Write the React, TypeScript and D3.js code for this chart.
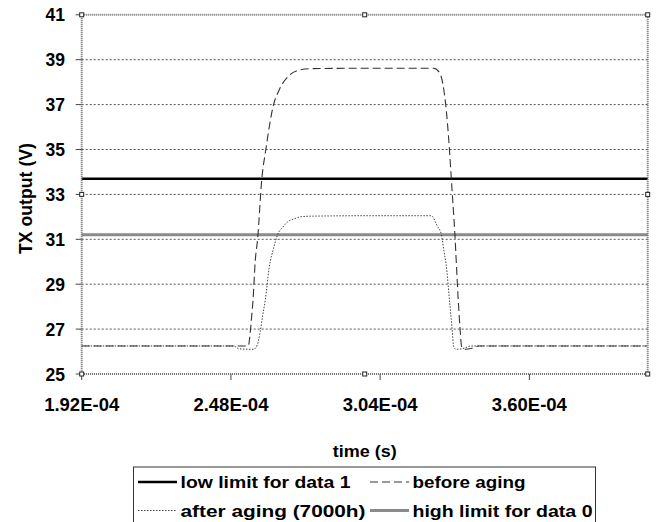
import React, { useEffect, useRef } from 'react';
import * as d3 from 'd3';

// axis ticks
const xTicks = [1.92e-4, 2.48e-4, 3.04e-4, 3.6e-4];
const xTickLabels = ['1.92E-04', '2.48E-04', '3.04E-04', '3.60E-04'];
const yTicks = [25, 27, 29, 31, 33, 35, 37, 39, 41];

// limit lines (V)
const lowLimitData1 = 33.7;
const highLimitData0 = 31.2;

// before aging (time in us, voltage in V)
const beforeTime = [192, 254.5, 255.2, 255.8, 256.3, 257.1, 258.0, 259.6, 261.1, 264.0, 266.1, 269.9, 274.0, 277.8, 300, 324.1, 326.4, 327.9, 328.6, 330.0, 330.7, 332.0, 333.3, 334.0, 334.6, 336.0, 338.5, 341, 404];
const beforeVolt = [26.25, 26.25, 26.8, 27.6, 28.3, 30.0, 31.0, 33.7, 35.0, 37.0, 37.65, 38.3, 38.55, 38.6, 38.62, 38.62, 38.4, 37.65, 37.0, 35.0, 33.7, 31.3, 28.3, 27.0, 26.2, 26.1, 26.15, 26.25, 26.25];

// after aging (7000h)
const afterTime = [192, 249, 251, 256.5, 257.9, 259.0, 259.9, 260.9, 262.4, 264.0, 265.5, 267.5, 269.3, 272.0, 274.0, 277.8, 300, 323.2, 325.4, 327.0, 327.9, 328.8, 330.0, 331.0, 331.6, 332.5, 335.5, 338, 404];
const afterVolt = [26.25, 26.25, 26.12, 26.1, 26.3, 26.9, 27.6, 28.3, 29.77, 30.6, 31.2, 31.55, 31.78, 31.92, 32.0, 32.03, 32.05, 32.05, 31.6, 31.2, 30.5, 29.85, 28.3, 27.0, 26.2, 26.1, 26.15, 26.25, 26.25];

const App = () => {
  const svgRef = useRef(null);

  useEffect(() => {
    const svg = d3.select(svgRef.current);
    svg.selectAll('*').remove();

    const width = 661;
    const height = 522;
    const left = 81.7, right = 647.7, top = 14.8, bottom = 374;
    const font = '"Liberation Sans", Arial, sans-serif';

    const x = d3.scaleLinear().domain([1.92e-4, 4.044e-4]).range([left, right]);
    const y = d3.scaleLinear().domain([25, 41]).range([bottom, top]);

    svg.attr('width', width).attr('height', height);
    svg.append('rect').attr('width', width).attr('height', height).attr('fill', '#fff');

    // horizontal grid
    svg.append('g')
      .selectAll('line')
      .data(yTicks.slice(1, -1))
      .enter()
      .append('line')
      .attr('x1', left).attr('x2', right)
      .attr('y1', d => y(d)).attr('y2', d => y(d))
      .attr('stroke', '#555')
      .attr('stroke-dasharray', '2,2');

    // tick marks
    svg.append('g')
      .selectAll('line')
      .data(yTicks)
      .enter()
      .append('line')
      .attr('x1', left - 6).attr('x2', left)
      .attr('y1', d => y(d)).attr('y2', d => y(d))
      .attr('stroke', '#444');
    svg.append('g')
      .selectAll('line')
      .data(xTicks)
      .enter()
      .append('line')
      .attr('x1', d => x(d)).attr('x2', d => x(d))
      .attr('y1', bottom).attr('y2', bottom + 6)
      .attr('stroke', '#444');

    // tick labels
    svg.append('g')
      .selectAll('text')
      .data(yTicks)
      .enter()
      .append('text')
      .attr('x', 65)
      .attr('y', d => y(d) + 6.5)
      .attr('text-anchor', 'end')
      .style('font', `bold 17.5px ${font}`)
      .text(d => d);
    svg.append('g')
      .selectAll('text')
      .data(xTicks)
      .enter()
      .append('text')
      .attr('x', d => x(d))
      .attr('y', 410.5)
      .attr('text-anchor', 'middle')
      .attr('textLength', 75)
      .attr('lengthAdjust', 'spacingAndGlyphs')
      .style('font', `bold 17.5px ${font}`)
      .text((d, i) => xTickLabels[i]);

    // axis titles
    svg.append('text')
      .attr('x', (left + right) / 2)
      .attr('y', 457)
      .attr('text-anchor', 'middle')
      .attr('textLength', 64)
      .attr('lengthAdjust', 'spacingAndGlyphs')
      .style('font', `bold 17px ${font}`)
      .text('time (s)');
    svg.append('text')
      .attr('transform', 'translate(31.5,198.5) rotate(-90)')
      .attr('text-anchor', 'middle')
      .attr('textLength', 111)
      .attr('lengthAdjust', 'spacingAndGlyphs')
      .style('font', `bold 17.5px ${font}`)
      .text('TX output (V)');

    // limit lines
    svg.append('line')
      .attr('x1', left).attr('x2', right)
      .attr('y1', y(highLimitData0)).attr('y2', y(highLimitData0))
      .attr('stroke', '#8a8a8a').attr('stroke-width', 3);
    svg.append('line')
      .attr('x1', left).attr('x2', right)
      .attr('y1', y(lowLimitData1)).attr('y2', y(lowLimitData1))
      .attr('stroke', '#000').attr('stroke-width', 2.5);

    // curves
    const line = d3.line().x(d => x(d[0] * 1e-6)).y(d => y(d[1])).curve(d3.curveMonotoneX);
    svg.append('path')
      .attr('d', line(afterTime.map((t, i) => [t, afterVolt[i]])))
      .attr('fill', 'none')
      .attr('stroke', '#444')
      .attr('stroke-width', 1)
      .attr('stroke-dasharray', '1.5,1.5');
    svg.append('path')
      .attr('d', line(beforeTime.map((t, i) => [t, beforeVolt[i]])))
      .attr('fill', 'none')
      .attr('stroke', '#333')
      .attr('stroke-width', 1.1)
      .attr('stroke-dasharray', '8,4');

    // plot area border with selection handles
    svg.append('rect')
      .attr('x', left).attr('y', top)
      .attr('width', right - left).attr('height', bottom - top)
      .attr('fill', 'none')
      .attr('stroke', '#6a6a6a')
      .attr('stroke-width', 2)
      .attr('stroke-dasharray', '1,1');
    const mx = (left + right) / 2, my = (top + bottom) / 2;
    const handles = [[left, top], [mx, top], [right, top], [left, my], [right, my], [left, bottom], [mx, bottom], [right, bottom]];
    svg.append('g')
      .selectAll('rect')
      .data(handles)
      .enter()
      .append('rect')
      .attr('x', d => d[0] - 2).attr('y', d => d[1] - 2)
      .attr('width', 4).attr('height', 4)
      .attr('fill', '#fff')
      .attr('stroke', '#222');

    // legend
    const lg = svg.append('g');
    lg.append('rect')
      .attr('x', 133.5).attr('y', 467)
      .attr('width', 462).attr('height', 80)
      .attr('fill', '#fff')
      .attr('stroke', '#333');
    const items = [
      { label: 'low limit for data 1', x: 138, y: 482, w: 170, stroke: '#000', sw: 2.5, dash: null },
      { label: 'before aging', x: 370, y: 482, w: 113, stroke: '#333', sw: 1.1, dash: '8,4' },
      { label: 'after aging (7000h)', x: 138, y: 510.5, w: 185, stroke: '#444', sw: 1, dash: '1.5,1.5' },
      { label: 'high limit for data 0', x: 370, y: 510.5, w: 180, stroke: '#8a8a8a', sw: 3, dash: null }
    ];
    const it = lg.selectAll('.item').data(items).enter().append('g').attr('class', 'item');
    it.append('line')
      .attr('x1', d => d.x).attr('x2', d => d.x + 39)
      .attr('y1', d => d.y).attr('y2', d => d.y)
      .attr('stroke', d => d.stroke)
      .attr('stroke-width', d => d.sw)
      .attr('stroke-dasharray', d => d.dash);
    it.append('text')
      .attr('x', d => d.x + 42.5)
      .attr('y', d => d.y + 6)
      .attr('textLength', d => d.w)
      .attr('lengthAdjust', 'spacingAndGlyphs')
      .style('font', `bold 17px ${font}`)
      .text(d => d.label);
  }, []);

  return <svg ref={svgRef} style={{ position: 'absolute', left: 0, top: 0 }}></svg>;
};

export default App;
